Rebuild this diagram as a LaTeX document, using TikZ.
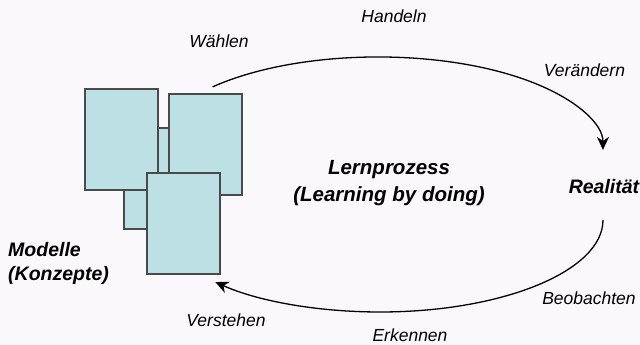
\documentclass[tikz,border=0pt]{standalone}
\usepackage{fontspec}
\setmainfont{Liberation Sans}
\usetikzlibrary{arrows.meta}
\definecolor{paper}{HTML}{FBF8FB}
\definecolor{cardfill}{HTML}{BCE0E3}
\definecolor{cardline}{HTML}{4A4A4A}
\begin{document}
\begin{tikzpicture}[x=1pt,y=1pt,
  card/.style={draw=cardline, fill=cardfill, line width=1.1pt,
    minimum width=73pt, minimum height=101pt, inner sep=0pt, outer sep=0pt},
  verb/.style={font=\fontsize{17.5}{21}\selectfont\itshape, inner sep=0pt, anchor=base},
  heading/.style={font=\fontsize{19.5}{24}\selectfont\bfseries\itshape, inner sep=0pt},
  flow/.style={line width=1.3pt, -{Stealth[length=13pt,width=12pt,inset=4pt]}}]
\fill[paper] (0,0) rectangle (640,345);
\useasboundingbox (0,0) rectangle (640,345);

% stack of model sheets, back to front
\node[card] (sheetB) at (160.5,166.5) {};
\node[card] (sheetA) at (121.5,205.5) {};
\node[card] (sheetC) at (205.5,200.5) {};
\node[card] (sheetD) at (183.5,121.5) {};

% cycle: acting on reality (top), observing it (bottom)
\coordinate (actStart) at (212.6,258.1);
\coordinate (obsStart) at (603,125);
\draw[flow] (actStart) arc[start angle=137.3, end angle=0, x radius=225, y radius=93];
\draw[flow] (obsStart) arc[start angle=0, end angle=-137.6, x radius=223, y radius=92];

% labels
\node[verb] (handeln) at (394,322.3) {Handeln};
\node[verb] (waehlen) at (219,297) {Wählen};
\node[verb] (veraendern) at (584.5,268) {Verändern};
\node[verb] (beobachten) at (589,40) {Beobachten};
\node[verb] (erkennen) at (410,3.5) {Erkennen};
\node[verb] (verstehen) at (226,18) {Verstehen};

\node[heading, anchor=base] (realitaet) at (604,151) {Realität};
\node[heading, anchor=west, align=left] (modelle) at (8,82) {Modelle\\(Konzepte)};
\node[heading, font=\fontsize{20.5}{26.5}\selectfont\bfseries\itshape, align=center] (lernen)
  at (389,162) {Lernprozess\\(Learning by doing)};
\end{tikzpicture}
\end{document}
